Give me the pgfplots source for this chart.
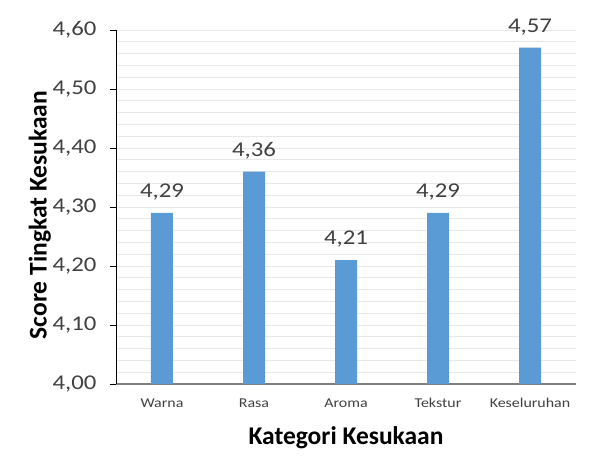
\documentclass[border=0pt]{standalone}
\usepackage{pgfplots}
\pgfplotsset{compat=1.18}
\usepackage{fontspec}
\setmainfont{Carlito}
\definecolor{barblue}{HTML}{5B9BD5}
\definecolor{txtgray}{HTML}{404040}
\definecolor{gridgray}{HTML}{E8E8E8}
\begin{document}
\begin{tikzpicture}
\begin{axis}[
    scale only axis,
    width=460pt, height=354pt,
    ybar, bar width=22pt,
    xmin=-0.5, xmax=4.5,
    ymin=4.0, ymax=4.6,
    xtick=data,
    xticklabels={Warna, Rasa, Aroma, Tekstur, Keseluruhan},
    ytick={4.0,4.1,...,4.61},
    minor y tick num=4,
    ymajorgrids, yminorgrids,
    major grid style={gridgray, line width=0.8pt},
    minor grid style={gridgray, line width=0.8pt},
    axis lines=left,
    axis line style={-},
    x axis line style={gray, line width=1.3pt},
    y axis line style={black, line width=0.6pt},
    xtick style={draw=none},
    ytick style={black, line width=0.6pt},
    tick align=outside,
    major tick length=6pt,
    minor tick length=0pt,
    /pgf/number format/.cd, fixed, fixed zerofill, precision=2, use comma,
    assume math mode=true,
    /pgfplots/.cd,
    yticklabel style={font=\fontsize{21}{24}\selectfont, text=txtgray,
        xscale=1.18, transform shape, xshift=-8pt},
    xticklabel style={font=\fontsize{13.5}{16}\selectfont, text=txtgray,
        xscale=1.18, transform shape, yshift=-5pt},
    ylabel={\bfseries Score Tingkat Kesukaan},
    xlabel={\bfseries Kategori Kesukaan},
    label style={font=\fontsize{25.5}{29}\selectfont, text=black},
    ylabel style={yshift=-6pt, xshift=-8pt},
    xlabel style={yshift=-12pt},
    nodes near coords,
    every node near coord/.append style={font=\fontsize{21}{24}\selectfont,
        text=txtgray, xscale=1.18, transform shape, yshift=9pt},
]
\addplot[fill=barblue, draw=none] coordinates {
    (0, 4.29) (1, 4.36) (2, 4.21) (3, 4.29) (4, 4.57)
};
\end{axis}
\path[use as bounding box] (-116pt,-72pt) rectangle (476pt,384pt);
\end{tikzpicture}
\end{document}
